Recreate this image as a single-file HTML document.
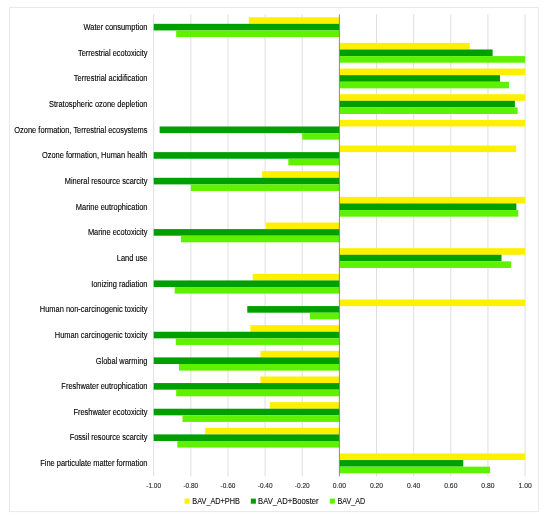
<!DOCTYPE html>
<html><head><meta charset="utf-8"><style>
html,body{margin:0;padding:0;background:#fff;}
svg{display:block;font-family:"Liberation Sans",sans-serif;}
</style></head><body>
<div style="will-change:transform"><svg width="550" height="524" viewBox="0 0 550 524">
<rect width="550" height="524" fill="#fff"/>
<rect x="9.5" y="7.4" width="529" height="504.2" fill="none" stroke="#e8e8e8" stroke-width="1"/>
<line x1="153.70" y1="14.30" x2="153.70" y2="476.40" stroke="#dadada" stroke-width="0.9"/>
<line x1="190.84" y1="14.30" x2="190.84" y2="476.40" stroke="#dadada" stroke-width="0.9"/>
<line x1="227.98" y1="14.30" x2="227.98" y2="476.40" stroke="#dadada" stroke-width="0.9"/>
<line x1="265.12" y1="14.30" x2="265.12" y2="476.40" stroke="#dadada" stroke-width="0.9"/>
<line x1="302.26" y1="14.30" x2="302.26" y2="476.40" stroke="#dadada" stroke-width="0.9"/>
<line x1="376.54" y1="14.30" x2="376.54" y2="476.40" stroke="#dadada" stroke-width="0.9"/>
<line x1="413.68" y1="14.30" x2="413.68" y2="476.40" stroke="#dadada" stroke-width="0.9"/>
<line x1="450.82" y1="14.30" x2="450.82" y2="476.40" stroke="#dadada" stroke-width="0.9"/>
<line x1="487.96" y1="14.30" x2="487.96" y2="476.40" stroke="#dadada" stroke-width="0.9"/>
<line x1="525.10" y1="14.30" x2="525.10" y2="476.40" stroke="#dadada" stroke-width="0.9"/>
<rect x="248.78" y="17.23" width="90.62" height="6.60" fill="#fff000"/>
<rect x="153.70" y="23.83" width="185.70" height="6.60" fill="#009f00"/>
<rect x="176.17" y="30.43" width="163.23" height="6.60" fill="#5ef200"/>
<rect x="339.40" y="42.89" width="130.36" height="6.60" fill="#fff000"/>
<rect x="339.40" y="49.49" width="153.20" height="6.60" fill="#009f00"/>
<rect x="339.40" y="56.09" width="185.70" height="6.60" fill="#5ef200"/>
<rect x="339.40" y="68.55" width="185.70" height="6.60" fill="#fff000"/>
<rect x="339.40" y="75.15" width="160.63" height="6.60" fill="#009f00"/>
<rect x="339.40" y="81.75" width="169.54" height="6.60" fill="#5ef200"/>
<rect x="339.40" y="94.21" width="185.70" height="6.60" fill="#fff000"/>
<rect x="339.40" y="100.81" width="175.49" height="6.60" fill="#009f00"/>
<rect x="339.40" y="107.41" width="178.27" height="6.60" fill="#5ef200"/>
<rect x="339.40" y="119.87" width="185.70" height="6.60" fill="#fff000"/>
<rect x="159.64" y="126.47" width="179.76" height="6.60" fill="#009f00"/>
<rect x="302.26" y="133.07" width="37.14" height="6.60" fill="#5ef200"/>
<rect x="339.40" y="145.53" width="176.79" height="6.60" fill="#fff000"/>
<rect x="153.70" y="152.13" width="185.70" height="6.60" fill="#009f00"/>
<rect x="288.33" y="158.73" width="51.07" height="6.60" fill="#5ef200"/>
<rect x="262.15" y="171.19" width="77.25" height="6.60" fill="#fff000"/>
<rect x="153.70" y="177.79" width="185.70" height="6.60" fill="#009f00"/>
<rect x="190.84" y="184.39" width="148.56" height="6.60" fill="#5ef200"/>
<rect x="339.40" y="196.85" width="185.70" height="6.60" fill="#fff000"/>
<rect x="339.40" y="203.45" width="176.97" height="6.60" fill="#009f00"/>
<rect x="339.40" y="210.05" width="178.83" height="6.60" fill="#5ef200"/>
<rect x="266.05" y="222.51" width="73.35" height="6.60" fill="#fff000"/>
<rect x="153.70" y="229.11" width="185.70" height="6.60" fill="#009f00"/>
<rect x="181.00" y="235.71" width="158.40" height="6.60" fill="#5ef200"/>
<rect x="339.40" y="248.17" width="185.70" height="6.60" fill="#fff000"/>
<rect x="339.40" y="254.77" width="162.12" height="6.60" fill="#009f00"/>
<rect x="339.40" y="261.37" width="171.77" height="6.60" fill="#5ef200"/>
<rect x="252.68" y="273.83" width="86.72" height="6.60" fill="#fff000"/>
<rect x="153.70" y="280.43" width="185.70" height="6.60" fill="#009f00"/>
<rect x="174.68" y="287.03" width="164.72" height="6.60" fill="#5ef200"/>
<rect x="339.40" y="299.49" width="185.70" height="6.60" fill="#fff000"/>
<rect x="247.29" y="306.09" width="92.11" height="6.60" fill="#009f00"/>
<rect x="309.87" y="312.69" width="29.53" height="6.60" fill="#5ef200"/>
<rect x="250.26" y="325.15" width="89.14" height="6.60" fill="#fff000"/>
<rect x="153.70" y="331.75" width="185.70" height="6.60" fill="#009f00"/>
<rect x="175.80" y="338.35" width="163.60" height="6.60" fill="#5ef200"/>
<rect x="260.48" y="350.81" width="78.92" height="6.60" fill="#fff000"/>
<rect x="153.70" y="357.41" width="185.70" height="6.60" fill="#009f00"/>
<rect x="178.96" y="364.01" width="160.44" height="6.60" fill="#5ef200"/>
<rect x="260.48" y="376.47" width="78.92" height="6.60" fill="#fff000"/>
<rect x="153.70" y="383.07" width="185.70" height="6.60" fill="#009f00"/>
<rect x="176.17" y="389.67" width="163.23" height="6.60" fill="#5ef200"/>
<rect x="269.76" y="402.13" width="69.64" height="6.60" fill="#fff000"/>
<rect x="153.70" y="408.73" width="185.70" height="6.60" fill="#009f00"/>
<rect x="182.48" y="415.33" width="156.92" height="6.60" fill="#5ef200"/>
<rect x="205.14" y="427.79" width="134.26" height="6.60" fill="#fff000"/>
<rect x="153.70" y="434.39" width="185.70" height="6.60" fill="#009f00"/>
<rect x="177.28" y="440.99" width="162.12" height="6.60" fill="#5ef200"/>
<rect x="339.40" y="453.45" width="185.70" height="6.60" fill="#fff000"/>
<rect x="339.40" y="460.05" width="123.86" height="6.60" fill="#009f00"/>
<rect x="339.40" y="466.65" width="150.60" height="6.60" fill="#5ef200"/>
<line x1="339.40" y1="14.30" x2="339.40" y2="476.40" stroke="#7f7f86" stroke-width="0.9"/>
<text x="83.59" y="29.93" font-size="8.3" textLength="63.91" lengthAdjust="spacingAndGlyphs" fill="#000" stroke="#000" stroke-width="0.12">Water consumption</text>
<text x="77.95" y="55.59" font-size="8.3" textLength="69.55" lengthAdjust="spacingAndGlyphs" fill="#000" stroke="#000" stroke-width="0.12">Terrestrial ecotoxicity</text>
<text x="73.79" y="81.25" font-size="8.3" textLength="73.71" lengthAdjust="spacingAndGlyphs" fill="#000" stroke="#000" stroke-width="0.12">Terrestrial acidification</text>
<text x="48.93" y="106.91" font-size="8.3" textLength="98.57" lengthAdjust="spacingAndGlyphs" fill="#000" stroke="#000" stroke-width="0.12">Stratospheric ozone depletion</text>
<text x="14.31" y="132.57" font-size="8.3" textLength="133.19" lengthAdjust="spacingAndGlyphs" fill="#000" stroke="#000" stroke-width="0.12">Ozone formation, Terrestrial ecosystems</text>
<text x="41.90" y="158.23" font-size="8.3" textLength="105.60" lengthAdjust="spacingAndGlyphs" fill="#000" stroke="#000" stroke-width="0.12">Ozone formation, Human health</text>
<text x="64.69" y="183.89" font-size="8.3" textLength="82.81" lengthAdjust="spacingAndGlyphs" fill="#000" stroke="#000" stroke-width="0.12">Mineral resource scarcity</text>
<text x="75.85" y="209.55" font-size="8.3" textLength="71.65" lengthAdjust="spacingAndGlyphs" fill="#000" stroke="#000" stroke-width="0.12">Marine eutrophication</text>
<text x="87.88" y="235.21" font-size="8.3" textLength="59.62" lengthAdjust="spacingAndGlyphs" fill="#000" stroke="#000" stroke-width="0.12">Marine ecotoxicity</text>
<text x="116.84" y="260.87" font-size="8.3" textLength="30.66" lengthAdjust="spacingAndGlyphs" fill="#000" stroke="#000" stroke-width="0.12">Land use</text>
<text x="91.17" y="286.53" font-size="8.3" textLength="56.33" lengthAdjust="spacingAndGlyphs" fill="#000" stroke="#000" stroke-width="0.12">Ionizing radiation</text>
<text x="39.84" y="312.19" font-size="8.3" textLength="107.66" lengthAdjust="spacingAndGlyphs" fill="#000" stroke="#000" stroke-width="0.12">Human non-carcinogenic toxicity</text>
<text x="54.75" y="337.85" font-size="8.3" textLength="92.75" lengthAdjust="spacingAndGlyphs" fill="#000" stroke="#000" stroke-width="0.12">Human carcinogenic toxicity</text>
<text x="95.73" y="363.51" font-size="8.3" textLength="51.77" lengthAdjust="spacingAndGlyphs" fill="#000" stroke="#000" stroke-width="0.12">Global warming</text>
<text x="61.36" y="389.17" font-size="8.3" textLength="86.14" lengthAdjust="spacingAndGlyphs" fill="#000" stroke="#000" stroke-width="0.12">Freshwater eutrophication</text>
<text x="73.38" y="414.83" font-size="8.3" textLength="74.12" lengthAdjust="spacingAndGlyphs" fill="#000" stroke="#000" stroke-width="0.12">Freshwater ecotoxicity</text>
<text x="69.67" y="440.49" font-size="8.3" textLength="77.83" lengthAdjust="spacingAndGlyphs" fill="#000" stroke="#000" stroke-width="0.12">Fossil resource scarcity</text>
<text x="40.25" y="466.15" font-size="8.3" textLength="107.25" lengthAdjust="spacingAndGlyphs" fill="#000" stroke="#000" stroke-width="0.12">Fine particulate matter formation</text>
<text x="146.30" y="488" font-size="7.0" textLength="14.8" lengthAdjust="spacingAndGlyphs" fill="#222" stroke="#222" stroke-width="0.1">-1.00</text>
<text x="183.44" y="488" font-size="7.0" textLength="14.8" lengthAdjust="spacingAndGlyphs" fill="#222" stroke="#222" stroke-width="0.1">-0.80</text>
<text x="220.58" y="488" font-size="7.0" textLength="14.8" lengthAdjust="spacingAndGlyphs" fill="#222" stroke="#222" stroke-width="0.1">-0.60</text>
<text x="257.72" y="488" font-size="7.0" textLength="14.8" lengthAdjust="spacingAndGlyphs" fill="#222" stroke="#222" stroke-width="0.1">-0.40</text>
<text x="294.86" y="488" font-size="7.0" textLength="14.8" lengthAdjust="spacingAndGlyphs" fill="#222" stroke="#222" stroke-width="0.1">-0.20</text>
<text x="332.80" y="488" font-size="7.0" textLength="13.2" lengthAdjust="spacingAndGlyphs" fill="#222" stroke="#222" stroke-width="0.1">0.00</text>
<text x="369.94" y="488" font-size="7.0" textLength="13.2" lengthAdjust="spacingAndGlyphs" fill="#222" stroke="#222" stroke-width="0.1">0.20</text>
<text x="407.08" y="488" font-size="7.0" textLength="13.2" lengthAdjust="spacingAndGlyphs" fill="#222" stroke="#222" stroke-width="0.1">0.40</text>
<text x="444.22" y="488" font-size="7.0" textLength="13.2" lengthAdjust="spacingAndGlyphs" fill="#222" stroke="#222" stroke-width="0.1">0.60</text>
<text x="481.36" y="488" font-size="7.0" textLength="13.2" lengthAdjust="spacingAndGlyphs" fill="#222" stroke="#222" stroke-width="0.1">0.80</text>
<text x="518.50" y="488" font-size="7.0" textLength="13.2" lengthAdjust="spacingAndGlyphs" fill="#222" stroke="#222" stroke-width="0.1">1.00</text>
<rect x="184.6" y="498.6" width="5.1" height="5.1" fill="#fff000"/>
<text x="192.3" y="503.8" font-size="8.4" textLength="47.6" lengthAdjust="spacingAndGlyphs" fill="#111" stroke="#111" stroke-width="0.12">BAV_AD+PHB</text>
<rect x="250.8" y="498.6" width="5.1" height="5.1" fill="#009f00"/>
<text x="258.1" y="503.8" font-size="8.4" textLength="60.5" lengthAdjust="spacingAndGlyphs" fill="#111" stroke="#111" stroke-width="0.12">BAV_AD+Booster</text>
<rect x="329.8" y="498.6" width="5.1" height="5.1" fill="#5ef200"/>
<text x="337.5" y="503.8" font-size="8.4" textLength="27.8" lengthAdjust="spacingAndGlyphs" fill="#111" stroke="#111" stroke-width="0.12">BAV_AD</text>
</svg></div>
</body></html>
